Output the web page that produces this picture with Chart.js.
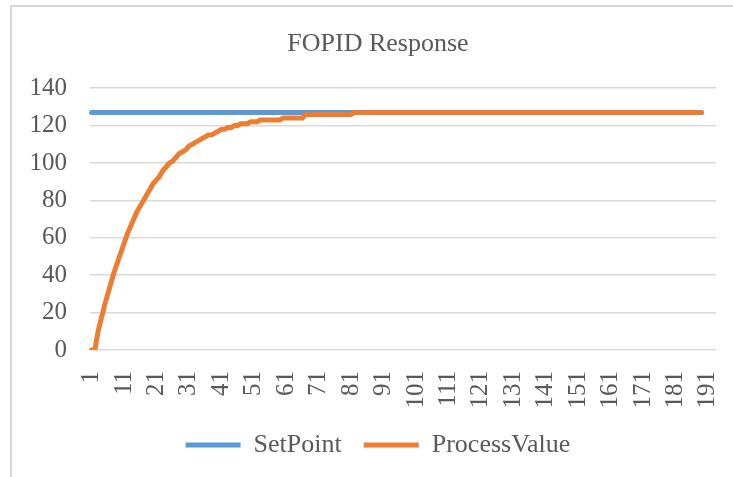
<!DOCTYPE html>
<html>
<head>
<meta charset="utf-8">
<script src="https://cdn.jsdelivr.net/npm/chart.js@4/dist/chart.umd.min.js"></script>
<style>
  html, body { margin: 0; padding: 0; background: #ffffff; overflow: hidden; width: 733px; height: 477px; }
  #frame { position: absolute; left: 10px; top: 5px; width: 760px; height: 480px;
           border-left: 2px solid #d9d9d9; border-top: 2px solid #d9d9d9; box-sizing: border-box; }
  #c { position: absolute; left: 0; top: 0; }
</style>
</head>
<body>
<div id="frame"></div>
<canvas id="c" width="760" height="477"></canvas>
<script>
// Sample index (x axis)
const categories = [
  1, 2, 3, 4, 5, 6, 7, 8, 9, 10, 11, 12, 13, 14, 15, 16, 17, 18, 19, 20,
  21, 22, 23, 24, 25, 26, 27, 28, 29, 30, 31, 32, 33, 34, 35, 36, 37, 38, 39, 40,
  41, 42, 43, 44, 45, 46, 47, 48, 49, 50, 51, 52, 53, 54, 55, 56, 57, 58, 59, 60,
  61, 62, 63, 64, 65, 66, 67, 68, 69, 70, 71, 72, 73, 74, 75, 76, 77, 78, 79, 80,
  81, 82, 83, 84, 85, 86, 87, 88, 89, 90, 91, 92, 93, 94, 95, 96, 97, 98, 99, 100,
  101, 102, 103, 104, 105, 106, 107, 108, 109, 110, 111, 112, 113, 114, 115, 116, 117, 118, 119, 120,
  121, 122, 123, 124, 125, 126, 127, 128, 129, 130, 131, 132, 133, 134, 135, 136, 137, 138, 139, 140,
  141, 142, 143, 144, 145, 146, 147, 148, 149, 150, 151, 152, 153, 154, 155, 156, 157, 158, 159, 160,
  161, 162, 163, 164, 165, 166, 167, 168, 169, 170, 171, 172, 173, 174, 175, 176, 177, 178, 179, 180,
  181, 182, 183, 184, 185, 186, 187, 188, 189, 190, 191, 192, 193
];

// Labels printed under the x axis
const tickLabels = [1, 11, 21, 31, 41, 51, 61, 71, 81, 91, 101, 111, 121, 131, 141, 151, 161, 171, 181, 191];

// Reference value
const setPoint = [
  127, 127, 127, 127, 127, 127, 127, 127, 127, 127, 127, 127, 127, 127, 127, 127, 127, 127, 127, 127,
  127, 127, 127, 127, 127, 127, 127, 127, 127, 127, 127, 127, 127, 127, 127, 127, 127, 127, 127, 127,
  127, 127, 127, 127, 127, 127, 127, 127, 127, 127, 127, 127, 127, 127, 127, 127, 127, 127, 127, 127,
  127, 127, 127, 127, 127, 127, 127, 127, 127, 127, 127, 127, 127, 127, 127, 127, 127, 127, 127, 127,
  127, 127, 127, 127, 127, 127, 127, 127, 127, 127, 127, 127, 127, 127, 127, 127, 127, 127, 127, 127,
  127, 127, 127, 127, 127, 127, 127, 127, 127, 127, 127, 127, 127, 127, 127, 127, 127, 127, 127, 127,
  127, 127, 127, 127, 127, 127, 127, 127, 127, 127, 127, 127, 127, 127, 127, 127, 127, 127, 127, 127,
  127, 127, 127, 127, 127, 127, 127, 127, 127, 127, 127, 127, 127, 127, 127, 127, 127, 127, 127, 127,
  127, 127, 127, 127, 127, 127, 127, 127, 127, 127, 127, 127, 127, 127, 127, 127, 127, 127, 127, 127,
  127, 127, 127, 127, 127, 127, 127, 127, 127
];

// Measured plant output
const processValue = [
  0, 0, 10, 17, 24, 30, 36, 42, 47, 52, 57, 62, 66, 70, 74, 77, 80, 83, 86, 89,
  91, 93, 96, 98, 100, 101, 103, 105, 106, 107, 109, 110, 111, 112, 113, 114, 115, 115, 116, 117,
  118, 118, 119, 119, 120, 120, 121, 121, 121, 122, 122, 122, 123, 123, 123, 123, 123, 123, 123, 124,
  124, 124, 124, 124, 124, 124, 126, 126, 126, 126, 126, 126, 126, 126, 126, 126, 126, 126, 126, 126,
  126, 127, 127, 127, 127, 127, 127, 127, 127, 127, 127, 127, 127, 127, 127, 127, 127, 127, 127, 127,
  127, 127, 127, 127, 127, 127, 127, 127, 127, 127, 127, 127, 127, 127, 127, 127, 127, 127, 127, 127,
  127, 127, 127, 127, 127, 127, 127, 127, 127, 127, 127, 127, 127, 127, 127, 127, 127, 127, 127, 127,
  127, 127, 127, 127, 127, 127, 127, 127, 127, 127, 127, 127, 127, 127, 127, 127, 127, 127, 127, 127,
  127, 127, 127, 127, 127, 127, 127, 127, 127, 127, 127, 127, 127, 127, 127, 127, 127, 127, 127, 127,
  127, 127, 127, 127, 127, 127, 127, 127, 127
];

const FONT = '"Liberation Serif", "Times New Roman", serif';
const TEXT = '#595959';

new Chart(document.getElementById('c'), {
  type: 'line',
  data: {
    labels: categories,
    datasets: [
      { label: 'SetPoint', data: setPoint, borderColor: '#5B9BD5', backgroundColor: '#5B9BD5',
        borderWidth: 5, order: 1 },
      { label: 'ProcessValue', data: processValue, borderColor: '#ED7D31', backgroundColor: '#ED7D31',
        borderWidth: 5, order: 0 }
    ]
  },
  options: {
    responsive: false,
    animation: false,
    devicePixelRatio: 1,
    elements: {
      point: { radius: 0, hoverRadius: 0 },
      line: { tension: 0, borderCapStyle: 'round', borderJoinStyle: 'round' }
    },
    layout: { padding: { left: 10, right: 14, top: 0, bottom: 9 } },
    plugins: {
      title: {
        display: true, text: 'FOPID Response', color: TEXT,
        font: { family: FONT, size: 26, weight: 'normal' },
        padding: { top: 29, bottom: 28 }
      },
      legend: {
        position: 'bottom',
        labels: {
          usePointStyle: true, pointStyle: 'line', pointStyleWidth: 55,
          color: TEXT, font: { family: FONT, size: 26 }, padding: 22,
          sort: (a, b) => a.datasetIndex - b.datasetIndex
        }
      },
      tooltip: { enabled: false }
    },
    scales: {
      x: {
        offset: true,
        grid: { display: false },
        border: { display: false },
        ticks: {
          autoSkip: false, minRotation: 90, maxRotation: 90, padding: 13,
          color: TEXT, font: { family: FONT, size: 25 },
          callback: function (v, i) {
            const c = categories[i];
            return tickLabels.includes(c) ? String(c) : '';
          }
        },
        afterFit: s => { s.height = 60; }
      },
      y: {
        min: 0, max: 140,
        ticks: { stepSize: 20, padding: 23, color: TEXT, font: { family: FONT, size: 25 } },
        grid: { color: '#d9d9d9', lineWidth: 1.5, drawTicks: false },
        border: { display: false },
        afterFit: s => { s.width = 80; }
      },
      yR: {
        position: 'right',
        grid: { display: false },
        border: { display: false },
        ticks: { display: false },
        afterFit: s => { s.width = 30; }
      }
    }
  }
});
</script>
</body>
</html>
